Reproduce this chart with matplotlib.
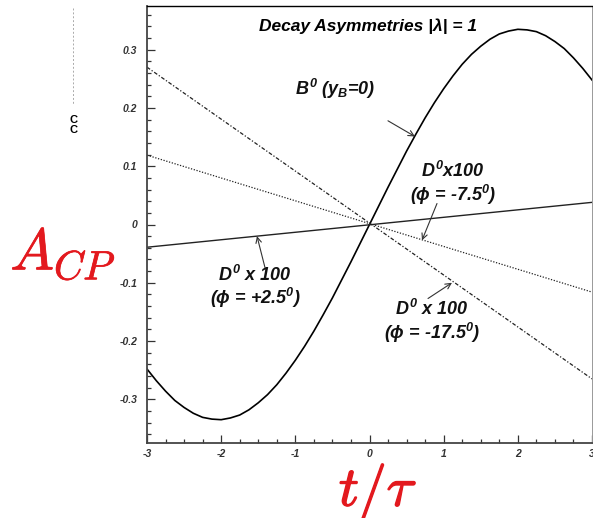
import numpy as np
import matplotlib
matplotlib.use("Agg")
import matplotlib.pyplot as plt
import matplotlib.patheffects as pe
from matplotlib.ticker import MultipleLocator, FuncFormatter
from matplotlib.lines import Line2D

plt.rcParams["font.family"] = ["Liberation Sans", "DejaVu Sans"]
plt.rcParams["axes.unicode_minus"] = False
plt.rcParams["mathtext.fontset"] = "custom"
plt.rcParams["mathtext.rm"] = "Liberation Sans:bold:italic"
plt.rcParams["mathtext.it"] = "Liberation Sans:bold:italic"
plt.rcParams["mathtext.bf"] = "Liberation Sans:bold:italic"
plt.rcParams["mathtext.sf"] = "Liberation Sans:bold:italic"

# proper time in units of the lifetime
t_b = [-3.0, -2.875, -2.75, -2.625, -2.5, -2.375, -2.25, -2.125, -2.0, -1.875, -1.75,
       -1.625, -1.5, -1.375, -1.25, -1.125, -1.0, -0.875, -0.75, -0.625, -0.5, -0.375,
       -0.25, -0.125, 0.0, 0.125, 0.25, 0.375, 0.5, 0.625, 0.75, 0.875, 1.0, 1.125,
       1.25, 1.375, 1.5, 1.625, 1.75, 1.875, 2.0, 2.125, 2.25, 2.375, 2.5, 2.625, 2.75,
       2.875, 3.0]
# B0 asymmetry (y_B = 0)
a_b = [-0.248, -0.268, -0.286, -0.302, -0.314, -0.324, -0.331, -0.334, -0.335, -0.332,
       -0.327, -0.318, -0.306, -0.292, -0.275, -0.255, -0.233, -0.209, -0.183, -0.155,
       -0.126, -0.095, -0.064, -0.032, 0.0, 0.032, 0.064, 0.095, 0.126, 0.155, 0.183,
       0.209, 0.233, 0.255, 0.275, 0.292, 0.306, 0.318, 0.327, 0.332, 0.335, 0.334,
       0.331, 0.324, 0.314, 0.302, 0.286, 0.268, 0.248]

# D0 asymmetries scaled by 100
t_d = [-3.0, 3.0]
a_d_p25 = [-0.039, 0.038]
a_d_m75 = [0.119, -0.116]
a_d_m175 = [0.270, -0.265]

fig = plt.figure(figsize=(5.93, 5.18), dpi=100)
ax = fig.add_axes([147 / 593, 75 / 518, 445 / 593, 437 / 518])

ax.plot(t_b, a_b, color="black", lw=1.2)
ax.plot(t_d, a_d_p25, color="#222222", lw=1.0)
ax.plot(t_d, a_d_m75, color="#222222", lw=0.9, linestyle=(0, (1, 1.3)))
ax.plot(t_d, a_d_m175, color="#222222", lw=0.9, linestyle=(0, (3, 1.5, 1, 1.5)))

ax.set_xlim(-3, 3)
ax.set_ylim(-0.375, 0.375)

ax.xaxis.set_major_locator(MultipleLocator(1))
ax.xaxis.set_minor_locator(MultipleLocator(0.25))
ax.yaxis.set_major_locator(MultipleLocator(0.1))
ax.yaxis.set_minor_locator(MultipleLocator(0.02))
ax.xaxis.set_major_formatter(FuncFormatter(lambda v, p: "%g" % round(v, 3)))
ax.yaxis.set_major_formatter(FuncFormatter(lambda v, p: "%g" % round(v, 3)))

ax.tick_params(which="both", direction="in", top=False, right=False,
               colors="#333333", width=0.9)
ax.tick_params(which="major", length=6)
ax.tick_params(which="minor", length=3)
ax.tick_params(axis="y", pad=7)
ax.tick_params(axis="x", pad=4)
for lab in ax.get_xticklabels() + ax.get_yticklabels():
    lab.set_fontsize(7.5)
    lab.set_fontweight("bold")
    lab.set_fontstyle("italic")

ax.spines["left"].set_linewidth(1.3)
ax.spines["bottom"].set_linewidth(1.3)
ax.spines["left"].set_color("#444444")
ax.spines["bottom"].set_color("#444444")
ax.spines["top"].set_linewidth(1.0)
ax.spines["right"].set_linewidth(0.7)
ax.spines["right"].set_color("#999999")

lbl = dict(fontsize=13, fontweight="bold", fontstyle="italic", color="#111111")
arr = dict(arrowstyle="->", color="#333333", lw=0.8, shrinkA=0, shrinkB=0)

ax.text(-0.02, 0.341, "Decay Asymmetries |λ| = 1", ha="center", va="center",
        fontsize=12.5, fontweight="bold", fontstyle="italic")

ax.text(-1.01, 0.233, r"$B^0$ ($y_B$=0)", ha="left", va="center", **lbl)
ax.annotate("", xy=(0.613, 0.151), xytext=(0.249, 0.178), arrowprops=arr)

ax.text(1.126, 0.070, "$D^0$x100\n($\\phi$ = -7.5$^0$)", ha="center", va="center",
        linespacing=1.1, **lbl)
ax.annotate("", xy=(0.708, -0.027), xytext=(0.91, 0.036), arrowprops=arr)

ax.text(-1.544, -0.108, "$D^0$ x 100\n($\\phi$ = +2.5$^0$)", ha="center", va="center",
        linespacing=1.1, **lbl)
ax.annotate("", xy=(-1.517, -0.020), xytext=(-1.409, -0.074), arrowprops=arr)

ax.text(0.843, -0.168, "$D^0$ x 100\n($\\phi$ = -17.5$^0$)", ha="center", va="center",
        linespacing=1.1, **lbl)
ax.annotate("", xy=(1.112, -0.100), xytext=(0.789, -0.127), arrowprops=arr)

# axis titles in red
red = "#e3191e"
fig.text(63 / 593, 1 - 254 / 518, r"$A_{CP}$", ha="center", va="center",
         fontsize=42, color=red, math_fontfamily="cm",
         path_effects=[pe.withStroke(linewidth=0.5, foreground=red)])
fig.text(378 / 593, 1 - 491 / 518, r"$t/\tau$", ha="center", va="center",
         fontsize=40, color=red, math_fontfamily="cm",
         path_effects=[pe.withStroke(linewidth=1.0, foreground=red)])

# remains of the old vertical label
fig.add_artist(Line2D([73 / 593, 73 / 593], [1 - 8 / 518, 1 - 105 / 518],
                      color="#aaaaaa", lw=0.7, linestyle=(0, (2, 2))))
fig.text(73 / 593, 1 - 125 / 518, "C\nC", ha="center", va="center",
         fontsize=8, fontweight="bold", linespacing=0.9)

fig.savefig("out.png", dpi=100)
